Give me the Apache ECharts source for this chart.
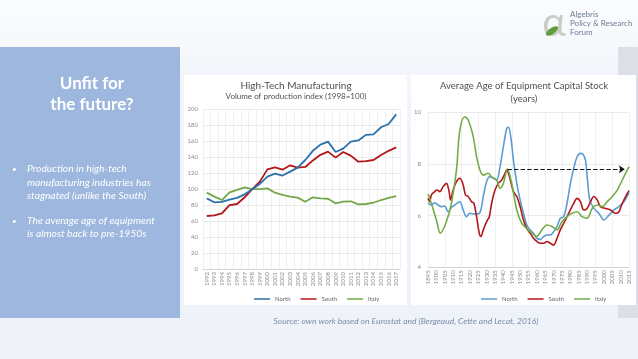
<!DOCTYPE html>
<html><head><meta charset="utf-8">
<script src="https://cdn.jsdelivr.net/npm/echarts@6/dist/echarts.min.js"></script>
<style>html,body{margin:0;padding:0;background:#eff2f9}#c{width:638px;height:359px}</style>
</head><body><div id="c"></div>
<script>
// ---- Left chart: High-Tech Manufacturing (index 1998=100)
const htYears = ['1992','1993','1994','1995','1996','1997','1998','1999','2000','2001','2002','2003','2004','2005','2006','2007','2008','2009','2010','2011','2012','2013','2014','2015','2016','2017'];
const htNorth = [88.5,83.5,84,87,89,93.5,100,106.5,115.7,119.4,117,122,127,136.5,148,155.7,159.5,146.5,150.7,159.5,161,168,168.7,177.5,181.6,193.7];
const htSouth = [66.4,67.2,69.7,80,81.4,89.8,100,109.4,124.8,127.3,124.4,129.9,127,127.8,136,143,147,139.5,146.5,142,134.4,135,136.5,142.8,148,152.4];
const htItaly = [95.6,90.6,86.4,96,99,102.3,100,100,101,95.6,92.7,90.6,89.4,84.3,89.8,88.5,88,82.3,84.3,84.8,81,81.4,83,86.4,89,91.4];
const htTicks = [0,20,40,60,80,100,120,140,160,180,200];

// ---- Right chart: Average age of equipment capital stock (years)
const ageNorth = [[1895,6.48],[1897,6.41],[1899,6.5],[1901,6.41],[1903,6.35],[1905,6.37],[1907,6.15],[1909,6.32],[1911,6.41],[1914,6.54],[1916,6.22],[1918,5.96],[1920,6.09],[1923,6.06],[1926,6.12],[1928,6.74],[1930,7.32],[1932,7.51],[1934,7.45],[1936,7.38],[1938,7.9],[1940,8.67],[1942,9.38],[1943,9.42],[1944.4,9.06],[1946,8.15],[1948,7.25],[1950,6.61],[1952,6.09],[1954,5.64],[1956,5.45],[1958,5.32],[1960,5.12],[1962,5.08],[1964,5.19],[1966,5.25],[1968,5.25],[1970,5.38],[1972,5.57],[1974,5.9],[1976,5.96],[1978,6.48],[1980,7.25],[1982,7.83],[1984,8.28],[1986,8.41],[1987.6,8.37],[1989,8.15],[1990.4,7.25],[1991.6,6.61],[1994,6.28],[1997,6.09],[2000,5.83],[2003,6.02],[2006,6.22],[2009,6.35],[2012,6.54],[2015,6.89]];
const ageSouth = [[1895,6.67],[1896,6.54],[1897,6.8],[1899,6.93],[1900.4,6.99],[1902,6.93],[1904,7.12],[1906,7.25],[1907.6,6.93],[1908.4,6.61],[1910,6.99],[1912,7.32],[1914,7.45],[1916,7.19],[1917.4,6.8],[1919,6.74],[1921,6.54],[1922.4,6.48],[1924,5.96],[1925.6,5.32],[1926.6,5.19],[1928,5.45],[1930,5.77],[1931.6,5.96],[1933,6.48],[1935,6.99],[1937,7.25],[1939,7.38],[1941,7.64],[1942,7.77],[1943.6,7.51],[1946,6.93],[1948,6.74],[1950,6.35],[1952,5.83],[1954,5.5],[1956,5.32],[1958,5.12],[1960,5.0],[1962,4.93],[1964,4.93],[1966,5.0],[1968,4.93],[1970,4.86],[1972,5.12],[1974,5.45],[1976,5.7],[1978,5.96],[1980,6.22],[1982,6.48],[1984,6.67],[1986,6.54],[1988,6.22],[1990,6.28],[1992,6.54],[1994,6.74],[1996,6.61],[1998,6.35],[2001,6.28],[2004,6.22],[2007,6.09],[2009,6.15],[2011,6.48],[2014,6.86],[2015,6.97]];
const ageItaly = [[1895,6.84],[1897,6.48],[1900,5.83],[1902.4,5.32],[1906,5.77],[1909,6.48],[1912,7.77],[1914,9.3],[1917,9.83],[1919,9.7],[1922,9.06],[1924,8.28],[1926,7.77],[1928,7.57],[1931,7.64],[1933,7.5],[1936,7.38],[1938,7.06],[1940,7.25],[1942.4,7.8],[1945,7.25],[1948,6.22],[1951,5.7],[1954,5.5],[1957,5.32],[1960,5.19],[1963,5.45],[1966,5.64],[1969,5.58],[1972,5.45],[1975,5.77],[1978,5.96],[1981,6.09],[1984,6.15],[1987,5.96],[1990,5.9],[1993,6.28],[1996,6.41],[1999,6.35],[2002,6.54],[2005,6.74],[2008,6.99],[2011,7.38],[2014,7.77],[2015,7.9]];
const ageYearRange = [1895, 2015];
const ageTicks = [4,6,8,10];
const arrowFrom = [1942.4, 7.8];
const arrowTo = [2012.5, 7.8];

const seriesNames = ['North','South','Italy'];
const colorsLeft = ['#2a70ad','#b2171b','#72a84a'];
const colorsRight = ['#5d9bd3','#b2171b','#72ad47'];

const FONT = 'Lato, "Open Sans", sans-serif';
const chart = echarts.init(document.getElementById('c'), null, {renderer:'canvas'});

function txt(x, y, s, o) {
  return Object.assign({type:'text', x:x, y:y, z:10, style: Object.assign({text:s, fill:'#fff', font:'9px '+FONT, textAlign:'left', textVerticalAlign:'middle'}, o||{})});
}
const axisLabelStyle = {color:'#8a8a8a', fontSize:6, fontFamily:FONT};

const option = {
  animation:false,
  backgroundColor: new echarts.graphic.LinearGradient(0,0,0,1,[{offset:0,color:'#fbfcfe'},{offset:0.25,color:'#f1f4fa'},{offset:1,color:'#eef2f9'}]),
  graphic: { elements: [
    {type:'rect', z:-10, shape:{x:0,y:47,width:180,height:271}, style:{fill:'#9db7de'}},
    {type:'rect', z:-10, shape:{x:618,y:47,width:20,height:271}, style:{fill:'#dcdfe5'}},
    {type:'rect', z:-9, shape:{x:184,y:75,width:223,height:230}, style:{fill:'#ffffff'}},
    {type:'rect', z:-9, shape:{x:411,y:75,width:225,height:230}, style:{fill:'#ffffff'}},
    txt(92,84,'Unfit for',{font:'bold 17px '+FONT, textAlign:'center'}),
    txt(92,105,'the future?',{font:'bold 17px '+FONT, textAlign:'center'}),
    txt(12,169,'•',{font:'8px '+FONT}),
    txt(27,169,'Production in high-tech',{font:'italic 10.3px '+FONT}),
    txt(27,182.5,'manufacturing industries has',{font:'italic 10.3px '+FONT}),
    txt(27,196,'stagnated (unlike the South)',{font:'italic 10.3px '+FONT}),
    txt(12,221,'•',{font:'8px '+FONT}),
    txt(27,221,'The average age of equipment',{font:'italic 10.3px '+FONT}),
    txt(27,234,'is almost back to pre-1950s',{font:'italic 10.3px '+FONT}),
    // logo
    txt(554,23,'α',{font:'40px '+FONT, fill:'#c9cec4', textAlign:'center'}),
    {type:'ellipse', z:11, shape:{cx:0,cy:0,rx:7,ry:3}, x:552, y:31, rotation:0.6, style:{fill:'#5d9d3c'}},
    txt(570,14,'Algebris',{font:'8px '+FONT, fill:'#6e7b8f'}),
    txt(570,23,'Policy & Research',{font:'8px '+FONT, fill:'#6e7b8f'}),
    txt(570,32,'Forum',{font:'8px '+FONT, fill:'#6e7b8f'}),
    // chart titles
    txt(296,86,'High-Tech Manufacturing',{font:'10px '+FONT, fill:'#505050', textAlign:'center'}),
    txt(296,96.5,'Volume of production index (1998=100)',{font:'8px '+FONT, fill:'#505050', textAlign:'center'}),
    txt(524,86,'Average Age of Equipment Capital Stock',{font:'9.5px '+FONT, fill:'#505050', textAlign:'center'}),
    txt(524,99,'(years)',{font:'9.5px '+FONT, fill:'#505050', textAlign:'center'}),
    txt(406,321,'Source: own work based on Eurostat and (Bergeaud, Cette and Lecat, 2016)',{font:'italic 8.5px '+FONT, fill:'#7d8cab', textAlign:'center'})
  ]},
  grid: [
    {left:203, top:109.3, width:197, height:159.7},
    {left:428, top:112.3, width:201, height:155}
  ],
  xAxis: [
    {type:'category', gridIndex:0, data:htYears, boundaryGap:true,
     axisLine:{lineStyle:{color:'#d4d4d4'}}, axisTick:{show:false},
     splitLine:{show:true, lineStyle:{color:'#ececec', width:0.8}},
     axisLabel:Object.assign({interval:0, rotate:90, margin:3}, axisLabelStyle)},
    {type:'value', gridIndex:1, min:ageYearRange[0], max:ageYearRange[1], interval:5,
     axisLine:{lineStyle:{color:'#d4d4d4'}}, axisTick:{show:false}, splitLine:{show:false},
     axisLabel:Object.assign({rotate:90, margin:3, formatter:v=>String(v)}, axisLabelStyle)},
    {type:'value', gridIndex:1, position:'top', min:ageYearRange[0], max:ageYearRange[1], interval:10,
     axisLine:{show:false}, axisTick:{show:false}, axisLabel:{show:false},
     splitLine:{show:true, lineStyle:{color:'#ececec', width:0.8}}}
  ],
  yAxis: [
    {type:'value', gridIndex:0, min:htTicks[0], max:htTicks[htTicks.length-1], interval:20,
     axisLine:{show:false}, axisTick:{show:false},
     splitLine:{lineStyle:{color:'#e4e4e4', width:0.8}},
     axisLabel:Object.assign({margin:5}, axisLabelStyle)},
    {type:'value', gridIndex:1, min:ageTicks[0], max:ageTicks[ageTicks.length-1], interval:2,
     axisLine:{show:false}, axisTick:{show:false},
     splitLine:{lineStyle:{color:'#e4e4e4', width:0.8}},
     axisLabel:Object.assign({margin:7}, axisLabelStyle)}
  ],
  legend: [
    {left:249, top:291, icon:'rect', itemWidth:16, itemHeight:1.5, itemGap:10,
     textStyle:{fontSize:6, color:'#666', fontFamily:FONT},
     data: seriesNames.map((n,i)=>({name:n, itemStyle:{color:colorsLeft[i]}}))},
    {left:476, top:291, icon:'rect', itemWidth:16, itemHeight:1.5, itemGap:10,
     textStyle:{fontSize:6, color:'#666', fontFamily:FONT},
     data: seriesNames.map((n,i)=>({name:n, itemStyle:{color:colorsRight[i]}}))}
  ],
  series: [
    ...[htNorth, htSouth, htItaly].map((d,i)=>({
      name:seriesNames[i], type:'line', xAxisIndex:0, yAxisIndex:0, data:d,
      symbol:'none', z: 3 - i, lineStyle:{width:1.8, color:colorsLeft[i]}, itemStyle:{color:colorsLeft[i]}
    })),
    ...[ageNorth, ageSouth, ageItaly].map((d,i)=>({
      name:seriesNames[i], type:'line', xAxisIndex:1, yAxisIndex:1, data:d,
      symbol:'none', smooth:0.35, lineStyle:{width:1.6, color:colorsRight[i]}, itemStyle:{color:colorsRight[i]},
      markLine: i===2 ? {silent:true, symbol:['none','arrow'], symbolSize:6,
        lineStyle:{type:'dashed', color:'#111', width:1.1}, label:{show:false},
        data:[[{coord:arrowFrom},{coord:arrowTo}]]} : undefined
    }))
  ]
};
chart.setOption(option);
</script></body></html>
